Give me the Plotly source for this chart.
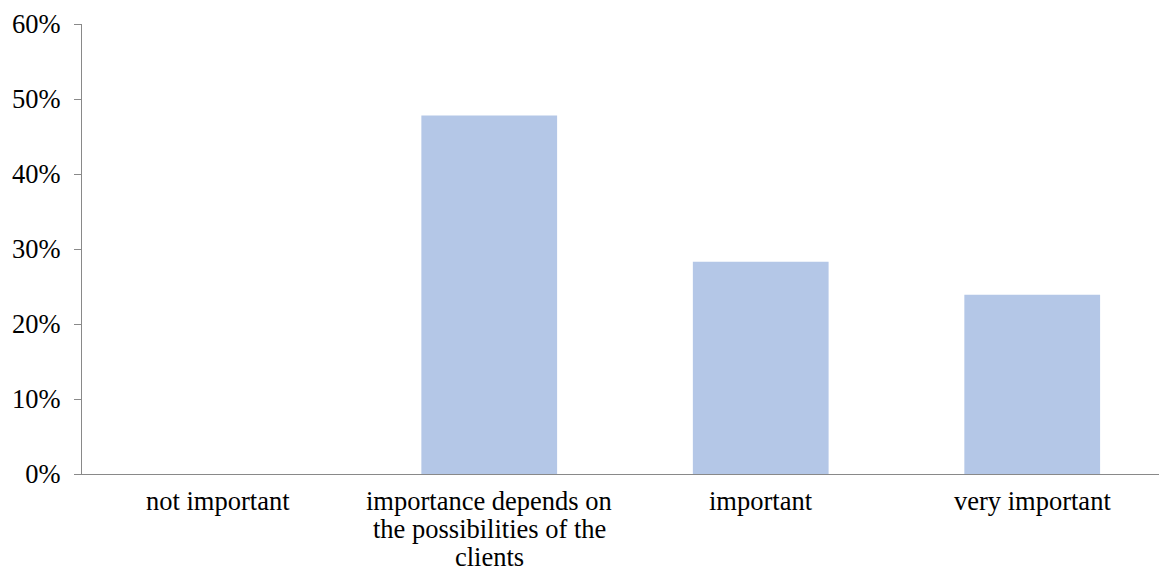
import plotly.graph_objects as go

# Survey answers and their shares (percent of respondents)
categories = [
    "not important",
    "importance depends on\nthe possibilities of the\nclients",
    "important",
    "very important",
]
shares = [0.0, 47.8, 28.3, 23.9]
y_ticks = [0, 10, 20, 30, 40, 50, 60]
y_tick_labels = [f"{v}%" for v in y_ticks]

axis_color = "#898989"
font = dict(family="Liberation Serif, Times New Roman, serif", size=26.5, color="#000000")
line_gap = 28  # spacing between wrapped category label lines, px
label_offset = 11  # distance from the x axis to the first label line, px

x_pos = list(range(len(categories)))

fig = go.Figure(
    go.Bar(
        x=x_pos,
        y=shares,
        width=0.5,
        marker=dict(color="#B4C7E7", line=dict(width=0)),
        hoverinfo="skip",
    )
)

# Category labels, one annotation per wrapped line for tight line spacing
annotations = []
for xi, label in zip(x_pos, categories):
    for k, line in enumerate(label.split("\n")):
        annotations.append(
            dict(
                x=xi,
                xref="x",
                y=0,
                yref="paper",
                text=line,
                showarrow=False,
                xanchor="center",
                yanchor="top",
                yshift=-(label_offset + k * line_gap),
                borderpad=0,
                font=font,
            )
        )

fig.update_layout(
    width=1159,
    height=575,
    margin=dict(l=82, r=0, t=24, b=101, autoexpand=False),
    paper_bgcolor="white",
    plot_bgcolor="white",
    font=font,
    showlegend=False,
    annotations=annotations,
)

fig.update_xaxes(
    range=[-0.5, 3.467],
    tickvals=x_pos,
    showticklabels=False,
    showline=True,
    linecolor=axis_color,
    linewidth=1,
    showgrid=False,
    zeroline=False,
    ticks="",
    automargin=False,
)

fig.update_yaxes(
    range=[0, 60],
    tickvals=y_ticks,
    ticktext=y_tick_labels,
    showline=True,
    linecolor=axis_color,
    linewidth=1,
    showgrid=False,
    zeroline=False,
    ticks="outside",
    ticklen=7,
    tickcolor=axis_color,
    tickwidth=1,
    tickfont=font,
    automargin=False,
    ticklabelstandoff=8,
)

fig.write_html("out.html")
